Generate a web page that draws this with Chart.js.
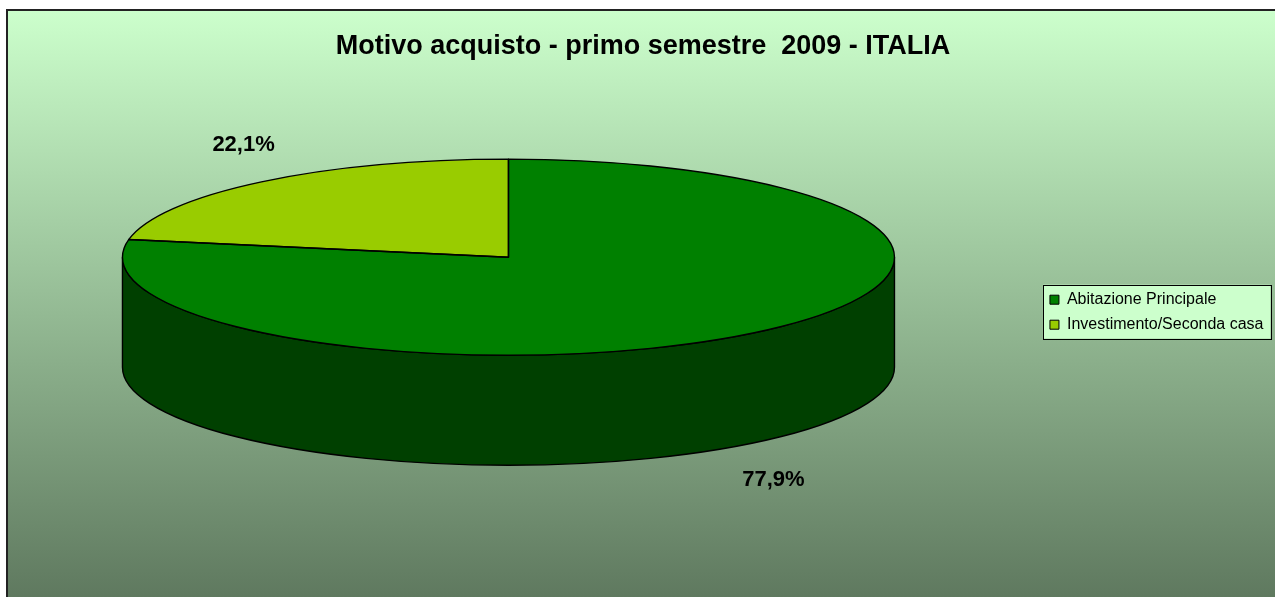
<!DOCTYPE html>
<html>
<head>
<meta charset="utf-8">
<script src="https://cdn.jsdelivr.net/npm/chart.js@4.4.0/dist/chart.umd.min.js"></script>
<style>
  html, body { margin: 0; padding: 0; background: #fff; overflow: hidden; }
  #chart { display: block; }
</style>
</head>
<body>
<canvas id="chart" width="1275" height="597"></canvas>
<script>
const titleText = 'Motivo acquisto - primo semestre  2009 - ITALIA';
const categories = ['Abitazione Principale', 'Investimento/Seconda casa'];
const shares = [77.9, 22.1];
const sliceColors = ['#008000', '#99CC00'];
const sideColors = ['#004000', '#4D6600'];

const FONT = '"Liberation Sans", Arial, sans-serif';
const frame = { left: 7, top: 10, right: 1279 };
const plotLeft = -24; // plot area starts a bit left of the canvas, so the pie sits left of centre

function pctLabel(v) {
  return v.toFixed(1).replace('.', ',') + '%';
}

// background panel like the spreadsheet chart area
const panel = {
  id: 'panel',
  beforeDraw(chart) {
    const ctx = chart.ctx;
    const h = chart.height;
    ctx.save();
    const g = ctx.createLinearGradient(0, frame.top, 0, h);
    g.addColorStop(0, '#CCFFCC');
    g.addColorStop(1, '#5F795F');
    ctx.fillStyle = g;
    ctx.fillRect(frame.left, frame.top, frame.right - frame.left, h - frame.top);
    ctx.strokeStyle = '#222';
    ctx.lineWidth = 2;
    ctx.beginPath();
    ctx.moveTo(frame.left, h);
    ctx.lineTo(frame.left, frame.top);
    ctx.lineTo(frame.right, frame.top);
    ctx.stroke();

    // legend frame
    const boxes = chart.legend && chart.legend.legendHitBoxes;
    if (boxes && boxes.length) {
      const l = Math.min(...boxes.map(b => b.left)) - 7;
      const r = Math.max(...boxes.map(b => b.left + b.width)) + 7;
      const t = Math.min(...boxes.map(b => b.top)) - 7;
      const bt = Math.max(...boxes.map(b => b.top + b.height)) + 6;
      ctx.fillStyle = '#CCFFCC';
      ctx.fillRect(l, t, r - l, bt - t);
      ctx.strokeStyle = '#000';
      ctx.lineWidth = 1;
      ctx.strokeRect(Math.round(l) + 0.5, Math.round(t) + 0.5, Math.round(r - l), Math.round(bt - t));
    }
    ctx.restore();
  },
  afterLayout(chart) {
    // title centred on the whole chart object
    const tb = chart.titleBlock;
    if (tb) {
      tb.left = frame.left;
      tb.right = frame.right;
      tb.width = frame.right - frame.left;
    }
    const ca = chart.chartArea;
    ca.width += ca.left - plotLeft;
    ca.left = plotLeft;
  }
};

// squashed pie with an extruded front side
const pie3d = {
  id: 'pie3d',
  beforeDatasetsDraw(chart, args, opts) {
    const ctx = chart.ctx;
    const arcs = chart.getDatasetMeta(0).data;
    const { x, y, outerRadius: r } = arcs[0];
    const ry = r * opts.tilt;
    const depth = r * opts.depth;
    const top = y - depth / 2;

    ctx.save();
    ctx.strokeStyle = opts.edge;
    ctx.lineWidth = opts.edgeWidth;
    arcs.forEach((arc, i) => {
      for (let k = -1; k <= 1; k++) {
        const s = Math.max(arc.startAngle, 2 * Math.PI * k);
        const e = Math.min(arc.endAngle, 2 * Math.PI * k + Math.PI);
        if (e <= s) continue;
        ctx.beginPath();
        ctx.ellipse(x, top, r, ry, 0, s, e);
        ctx.ellipse(x, top + depth, r, ry, 0, e, s, true);
        ctx.closePath();
        ctx.fillStyle = sideColors[i];
        ctx.fill();
        ctx.stroke();
      }
    });
    ctx.restore();

    ctx.save();
    ctx.translate(x, top);
    ctx.scale(1, opts.tilt);
    ctx.translate(-x, -y);
  },
  afterDatasetsDraw(chart, args, opts) {
    const ctx = chart.ctx;
    ctx.restore();
    const arcs = chart.getDatasetMeta(0).data;
    const { x, y, outerRadius: r } = arcs[0];
    const ry = r * opts.tilt;
    const depth = r * opts.depth;
    const top = y - depth / 2;

    ctx.save();
    ctx.strokeStyle = opts.edge;
    ctx.lineWidth = opts.edgeWidth;
    ctx.lineJoin = 'round';
    arcs.forEach(arc => {
      ctx.beginPath();
      ctx.moveTo(x, top);
      ctx.ellipse(x, top, r, ry, 0, arc.startAngle, arc.endAngle);
      ctx.closePath();
      ctx.stroke();
    });

    // value labels
    ctx.fillStyle = '#000';
    ctx.font = 'bold 22px ' + FONT;
    ctx.textAlign = 'center';
    ctx.textBaseline = 'middle';
    arcs.forEach((arc, i) => {
      const m = (arc.startAngle + arc.endAngle) / 2;
      const c = Math.cos(m), s = Math.sin(m);
      const lx = x + (r + opts.labelOffsetX) * c;
      const ly = top + (ry + opts.labelOffsetY) * s + (s > 0 ? depth : 0);
      ctx.fillText(pctLabel(shares[i]), lx, ly);
    });
    ctx.restore();
  }
};

new Chart(document.getElementById('chart'), {
  type: 'pie',
  data: {
    labels: categories,
    datasets: [{
      data: shares,
      backgroundColor: sliceColors,
      borderWidth: 0,
      radius: 386,
      clip: false
    }]
  },
  options: {
    responsive: false,
    animation: false,
    devicePixelRatio: 1,
    events: [],
    layout: { padding: { left: 0, right: 1.5, top: 0, bottom: 45 } },
    plugins: {
      title: {
        display: true,
        text: titleText,
        color: '#000',
        font: { family: FONT, size: 27, weight: 'bold' },
        padding: { top: 30, bottom: 10 }
      },
      legend: {
        position: 'right',
        fullSize: false,
        labels: {
          color: '#000',
          font: { family: FONT, size: 16 },
          boxWidth: 9,
          boxHeight: 9,
          padding: 9,
          generateLabels(chart) {
            return Chart.overrides.pie.plugins.legend.labels.generateLabels(chart)
              .map(item => Object.assign(item, { strokeStyle: '#000', lineWidth: 1 }));
          }
        }
      },
      tooltip: { enabled: false },
      pie3d: {
        tilt: 0.254,
        depth: 0.285,
        edge: '#000',
        edgeWidth: 1.4,
        labelOffsetX: 28,
        labelOffsetY: 48
      }
    }
  },
  plugins: [panel, pie3d]
});
</script>
</body>
</html>
